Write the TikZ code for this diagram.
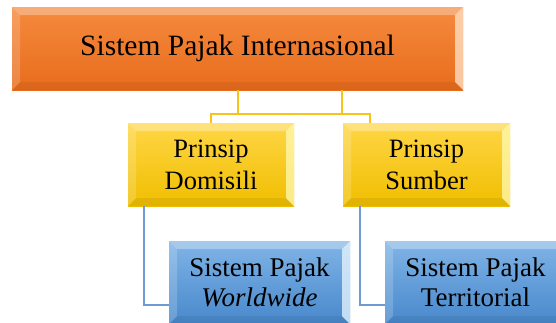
\documentclass[tikz,border=0pt]{standalone}
\usepackage{fontspec}
\setmainfont{Liberation Serif}
\begin{document}
\begin{tikzpicture}[x=1pt, y=-1pt]
% hierarchy of international tax systems
\def\bev{8pt}
\definecolor{orangeTop}{RGB}{245,138,62}
\definecolor{orangeBot}{RGB}{232,108,28}
\definecolor{yellowTop}{RGB}{255,214,70}
\definecolor{yellowBot}{RGB}{240,190,0}
\definecolor{blueTop}{RGB}{128,180,230}
\definecolor{blueBot}{RGB}{72,136,204}
\definecolor{yellowLink}{RGB}{245,195,25}
\definecolor{blueLink}{RGB}{110,155,210}
\tikzset{
  bevelbox/.style n args={3}{draw=none, inner sep=0pt, align=center,
    top color=#1, bottom color=#2,
    path picture={
      % top and left facets a little lighter
      \fill[white, opacity=0.30] (path picture bounding box.north west) -- (path picture bounding box.north east)
        -- ([xshift=-\bev,yshift=-\bev]path picture bounding box.north east) -- ([xshift=\bev,yshift=-\bev]path picture bounding box.north west) -- cycle;
      \fill[white, opacity=0.18] (path picture bounding box.north west) -- ([xshift=\bev,yshift=-\bev]path picture bounding box.north west)
        -- ([xshift=\bev,yshift=\bev]path picture bounding box.south west) -- (path picture bounding box.south west) -- cycle;
      % right facet catches the light
      \fill[#3, opacity=0.75] (path picture bounding box.north east) -- (path picture bounding box.south east)
        -- ([xshift=-\bev,yshift=\bev]path picture bounding box.south east) -- ([xshift=-\bev,yshift=-\bev]path picture bounding box.north east) -- cycle;
      % bottom facet a little darker
      \fill[black, opacity=0.06] (path picture bounding box.south west) -- (path picture bounding box.south east)
        -- ([xshift=-\bev,yshift=\bev]path picture bounding box.south east) -- ([xshift=\bev,yshift=\bev]path picture bounding box.south west) -- cycle;
    }},
  rootbox/.style={bevelbox={orangeTop}{orangeBot}{orange!20!white}, minimum width=451pt, minimum height=83pt,
    font=\fontsize{29.5}{34}\selectfont},
  midbox/.style={bevelbox={yellowTop}{yellowBot}{yellow!30!white}, minimum width=166pt, minimum height=83pt,
    font=\fontsize{26.5}{32}\selectfont},
  leafbox/.style={bevelbox={blueTop}{blueBot}{cyan!8!white}, minimum width=181pt, minimum height=83pt,
    font=\fontsize{27}{30}\selectfont},
  linkmid/.style={draw=yellowLink, line width=2pt},
  linkleaf/.style={draw=blueLink, line width=2pt}
}
\begin{scope}
  \clip (0,0) rectangle (556,322);
  % Boxes
  \node[rootbox] (root) at (237.5,48.5) {Sistem Pajak Internasional};
  \node[midbox] (dom) at (211,164.5) {Prinsip\\Domisili};
  \node[midbox, minimum width=167pt] (sum) at (426.5,164.5) {Prinsip\\Sumber};
  \node[leafbox] (ww) at (259.5,282.5) {Sistem Pajak\\\textit{Worldwide}};
  \node[leafbox] (ter) at (475.5,282.5) {Sistem Pajak\\Territorial};
  % Connectors root -> principles
  \coordinate (bus) at (0,114);
  \draw[linkmid] (root.south) -- (root.south |- bus);
  \draw[linkmid] ([xshift=104.5pt]root.south) -- ([xshift=104.5pt]root.south |- bus);
  \draw[linkmid] (dom.north) -- (dom.north |- bus) -- ([xshift=27pt]sum.north west |- bus) -- ([xshift=27pt]sum.north west);
  % Connectors principles -> systems
  \draw[linkleaf] ([xshift=16pt]dom.south west) |- ([yshift=-22.5pt]ww.west);
  \draw[linkleaf] ([xshift=17pt]sum.south west) |- ([yshift=-22.5pt]ter.west);
\end{scope}
\pgfresetboundingbox
\useasboundingbox (0,0) rectangle (556,322);
\end{tikzpicture}
\end{document}
